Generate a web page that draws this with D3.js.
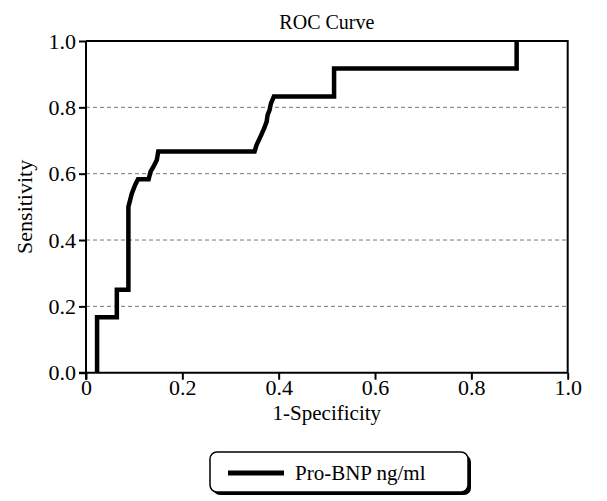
<!DOCTYPE html>
<html><head><meta charset="utf-8">
<script src="https://cdn.jsdelivr.net/npm/d3@7"></script>
<style>body{margin:0;background:#fff}svg{display:block}text{font-family:"Liberation Serif","Times New Roman",serif;fill:#000}</style>
</head><body>
<svg id="c" width="607" height="501"></svg>
<script>
const title = "ROC Curve";
const xLabel = "1-Specificity";
const yLabel = "Sensitivity";
const seriesName = "Pro-BNP ng/ml";
const xTicks = [0, 0.2, 0.4, 0.6, 0.8, 1.0];
const xTickLabels = ["0", "0.2", "0.4", "0.6", "0.8", "1.0"];
const yTicks = [0, 0.2, 0.4, 0.6, 0.8, 1.0];
const yTickLabels = ["0.0", "0.2", "0.4", "0.6", "0.8", "1.0"];
const gridTicks = [0.2, 0.4, 0.6, 0.8];
// ROC curve points (1-specificity, sensitivity)
const fpr = [0.023, 0.023, 0.064, 0.064, 0.088, 0.088, 0.095, 0.102, 0.108, 0.130, 0.134, 0.140, 0.147, 0.150, 0.350, 0.354, 0.362, 0.370, 0.375, 0.377, 0.381, 0.384, 0.390, 0.515, 0.515, 0.894, 0.894];
const tpr = [0.000, 0.167, 0.167, 0.250, 0.250, 0.500, 0.540, 0.566, 0.583, 0.583, 0.606, 0.621, 0.641, 0.667, 0.667, 0.686, 0.711, 0.737, 0.757, 0.777, 0.792, 0.812, 0.833, 0.833, 0.917, 0.917, 1.000];

const svg = d3.select("#c");
const L = 86, R = 567.7, T = 41, B = 372.7;
const x = d3.scaleLinear().domain([0, 1]).range([L, R]);
const y = d3.scaleLinear().domain([0, 1]).range([B, T]);

// grid
svg.append("g").selectAll("line").data(gridTicks).join("line")
  .attr("x1", L).attr("x2", R).attr("y1", d => y(d)).attr("y2", d => y(d))
  .attr("stroke", "#777").attr("stroke-width", 1).attr("stroke-dasharray", "4,3");

// border (top/right)
svg.append("path").attr("d", `M${L},${T}H${R}V${B}`).attr("fill", "none").attr("stroke", "#000").attr("stroke-width", 2);

// axes
const xAxis = d3.axisBottom(x).tickValues(xTicks).tickFormat((d, i) => xTickLabels[i]).tickSize(7).tickPadding(0);
const gx = svg.append("g").attr("transform", `translate(0,${B})`).call(xAxis);
const yAxis = d3.axisLeft(y).tickValues(yTicks).tickFormat((d, i) => yTickLabels[i]).tickSize(7).tickPadding(3);
const gy = svg.append("g").attr("transform", `translate(${L},0)`).call(yAxis);
[gx, gy].forEach(g => {
  g.attr("font-family", null).attr("font-size", null);
  g.select(".domain").attr("stroke", "#000").attr("stroke-width", 2);
  g.selectAll(".tick line").attr("stroke", "#000").attr("stroke-width", 2);
  g.selectAll(".tick text").style("font-family", '"Liberation Serif",serif').style("font-size", "22px").attr("fill", "#000");
});
gy.select(".domain").attr("d", `M0,${B+7}V${T}`);
gx.select(".domain").attr("d", `M${L-7},0H${R}`);

// curve
const pts = fpr.map((v, i) => [v, tpr[i]]);
svg.append("path").datum(pts)
  .attr("d", d3.line().x(d => x(d[0])).y(d => y(d[1])))
  .attr("fill", "none").attr("stroke", "#000").attr("stroke-width", 4.5).attr("stroke-linejoin", "miter");

// titles
svg.append("text").attr("x", (L + R) / 2).attr("y", 29).attr("text-anchor", "middle").style("font-size", "20px").text(title);
svg.append("text").attr("x", (L + R) / 2).attr("y", 420).attr("text-anchor", "middle").style("font-size", "21px").text(xLabel);
svg.append("text").attr("transform", `translate(32,${(T + B) / 2}) rotate(-90)`).attr("text-anchor", "middle").style("font-size", "22px").text(yLabel);

// legend
const lg = svg.append("g");
lg.append("rect").attr("x", 213).attr("y", 455).attr("width", 258).attr("height", 40).attr("rx", 7).attr("fill", "#000");
lg.append("rect").attr("x", 210).attr("y", 452).attr("width", 258).attr("height", 40).attr("rx", 7).attr("fill", "#fff").attr("stroke", "#000").attr("stroke-width", 1.5);
lg.append("line").attr("x1", 228).attr("x2", 284).attr("y1", 473).attr("y2", 473).attr("stroke", "#000").attr("stroke-width", 5);
lg.append("text").attr("x", 295).attr("y", 480).style("font-size", "21px").text(seriesName);
</script>
</body></html>
